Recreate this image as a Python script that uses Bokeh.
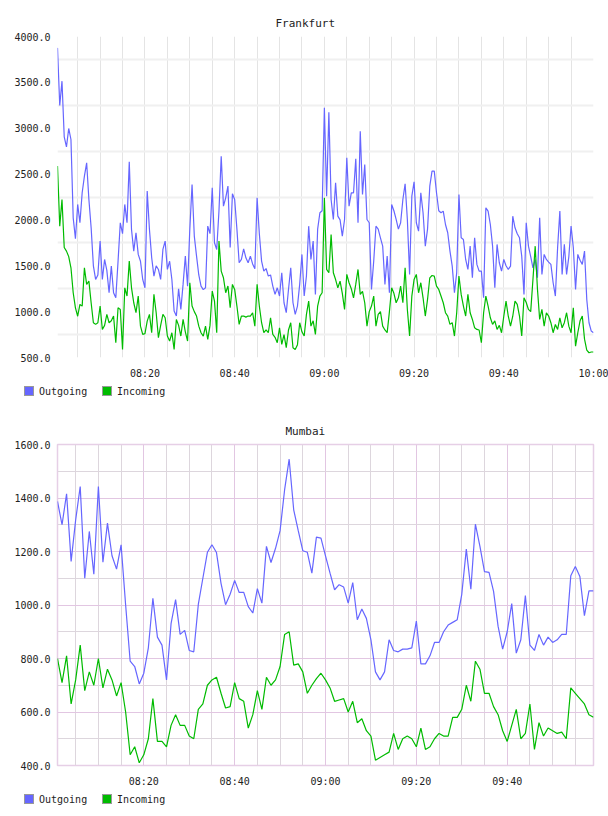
import pandas as pd
from bokeh.plotting import figure
from bokeh.layouts import column
from bokeh.models import (ColumnDataSource, FixedTicker, PrintfTickFormatter,
                          DatetimeTickFormatter, Range1d, Div)
from bokeh.embed import file_html
from bokeh.resources import INLINE

DAY = "2000-01-01"

# ---------------- Frankfurt (30 s samples, 08:00:30 .. 10:00:00) ----------------
fra_start = "08:00:30"
fra_step = "30s"
fra_out = [
    3876, 3248, 3513, 2906, 2797, 2997, 2877, 2023, 1795, 2169,
    1969, 2296, 2477, 2623, 2223, 1915, 1500, 1351, 1400, 1769,
    1351, 1569, 1450, 1206, 1497, 1206, 1151, 1550, 1969, 1850,
    2169, 1969, 2634, 1896, 1660, 1860, 1624, 1550, 1351, 1260,
    2314, 1896, 1588, 1388, 1500, 1460, 1351, 1678, 1769, 1460,
    1550, 1351, 1006, 952, 1250, 1024, 1300, 1605, 1278, 1900,
    2387, 1824, 1605, 1400, 1278, 1240, 1260, 1933, 1850, 2350,
    1751, 1678, 2100, 2695, 2150, 2241, 2369, 1700, 2285, 2223,
    1900, 1533, 1569, 1685, 1587, 1533, 1605, 1520, 1467, 2241,
    1850, 1551, 1442, 1470, 1388, 1400, 1279, 1188, 1260, 1170,
    1424, 1097, 988, 1242, 1478, 1097, 970, 1061, 1300, 1624,
    1170, 1388, 1932, 1569, 1769, 1188, 1900, 2078, 2100, 3222,
    2259, 3175, 2223, 2005, 2405, 2041, 2000, 1823, 2005, 2677,
    2150, 2296, 2296, 2666, 1969, 2968, 2278, 2605, 2005, 1969,
    1242, 1551, 1932, 1900, 1805, 1714, 1297, 1605, 1206, 2169,
    2100, 2005, 1900, 1969, 2223, 2394, 2005, 1405, 2259, 2416,
    1969, 1878, 2296, 2078, 1714, 1900, 2368, 2532, 2532, 2296,
    2100, 2078, 2096, 1950, 1860, 1660, 1496, 1206, 1424, 2278,
    1805, 1787, 1569, 1460, 1714, 1369, 1805, 1515, 1442, 1442,
    1151, 2132, 2096, 1950, 1714, 1260, 1733, 1533, 1442, 1569,
    1500, 1460, 1496, 2041, 1914, 1850, 1805, 1605, 1188, 1969,
    1714, 1600, 1478, 1569, 1369, 2023, 1405, 1624, 1569, 1540,
    1515, 1315, 1170, 1700, 2096, 1405, 1733, 1405, 1600, 1932,
    1700, 1242, 1624, 1560, 1515, 1660, 1133, 879, 788, 770,
]
fra_in = [
    2587, 1932, 2223, 1700, 1660, 1600, 1478, 1206, 1042, 950,
    1079, 1060, 1478, 1297, 1333, 1097, 879, 861, 879, 1061,
    806, 850, 970, 879, 900, 952, 661, 1042, 1024, 588,
    1260, 1170, 1551, 1260, 1097, 988, 1170, 842, 752, 760,
    897, 970, 770, 1188, 988, 716, 850, 970, 933, 734,
    679, 770, 588, 915, 850, 734, 915, 780, 679, 1315,
    1061, 1000, 952, 842, 770, 734, 842, 697, 850, 1224,
    1115, 770, 1769, 1442, 1369, 1206, 1279, 1042, 1297, 1242,
    1061, 861, 952, 952, 940, 952, 952, 988, 842, 1297,
    1061, 879, 770, 800, 770, 933, 752, 720, 661, 824,
    643, 750, 607, 800, 879, 607, 588, 640, 879, 780,
    734, 970, 1115, 842, 900, 752, 1061, 1170, 1206, 2241,
    1460, 1424, 1841, 1424, 1350, 1260, 1333, 1200, 1024, 1406,
    1315, 1250, 1151, 1300, 1460, 1188, 1220, 1097, 842, 1000,
    1061, 1170, 842, 970, 1000, 842, 800, 770, 1000, 1260,
    1200, 1097, 1151, 1279, 1097, 1478, 1024, 734, 1170, 1351,
    1406, 1206, 1315, 1151, 952, 1133, 1369, 1394, 1388, 1279,
    1242, 1170, 1097, 988, 952, 861, 880, 734, 988, 1388,
    1188, 1061, 952, 1188, 988, 915, 824, 806, 800, 661,
    988, 1170, 1061, 933, 861, 900, 806, 850, 770, 950,
    1115, 950, 842, 950, 1115, 1079, 952, 734, 1151, 1100,
    1024, 1000, 1351, 1714, 1250, 915, 1024, 842, 988, 952,
    879, 770, 860, 806, 933, 824, 879, 988, 842, 770,
    1042, 624, 770, 900, 952, 700, 580, 552, 560, 560,
]
fra_y_ticks = [500, 1000, 1500, 2000, 2500, 3000, 3500, 4000]
fra_y_grid = [750, 1250, 1750, 2250, 2750, 3250, 3750]

# ---------------- Mumbai (1 min samples, 08:01 .. 09:59) ----------------
mum_start = "08:01:00"
mum_step = "60s"
mum_out = [
    1387, 1300, 1416, 1163, 1318, 1443, 1100, 1275, 1115, 1443,
    1160, 1306, 1184, 1134, 1225, 1000, 790, 770, 705, 745,
    840, 1025, 880, 850, 720, 930, 1020, 890, 905, 830,
    825, 1002, 1100, 1197, 1225, 1196, 1081, 1001, 1040, 1092,
    1047, 1047, 994, 970, 1061, 1007, 1219, 1159, 1212, 1278,
    1431, 1545, 1356, 1278, 1203, 1197, 1119, 1254, 1250, 1184,
    1119, 1057, 1076, 1067, 1007, 1084, 945, 985, 950, 870,
    750, 720, 750, 870, 830, 825, 835, 835, 840, 940,
    780, 780, 810, 860, 860, 900, 925, 935, 945, 1040,
    1209, 1059, 1302, 1219, 1125, 1122, 1051, 920, 835, 900,
    1005, 820, 870, 1035, 850, 830, 890, 850, 880, 860,
    870, 890, 890, 1109, 1144, 1107, 960, 1053, 1053,
]
mum_in = [
    800, 710, 810, 630, 720, 850, 680, 750, 700, 800,
    690, 760, 720, 660, 710, 600, 440, 470, 410, 440,
    500, 650, 490, 490, 470, 550, 590, 550, 550, 510,
    500, 610, 630, 700, 720, 730, 670, 615, 620, 710,
    650, 640, 540, 590, 680, 610, 730, 700, 720, 770,
    890, 900, 775, 780, 750, 670, 700, 725, 745, 720,
    690, 640, 645, 650, 600, 640, 560, 575, 530, 510,
    420, 430, 440, 450, 520, 460, 500, 510, 500, 470,
    540, 460, 470, 500, 520, 510, 510, 580, 580, 610,
    700, 640, 790, 760, 670, 670, 620, 590, 530, 490,
    550, 610, 500, 520, 630, 460, 560, 510, 540, 530,
    520, 525, 500, 690, 670, 650, 630, 590, 580,
]
mum_y_ticks = [400, 600, 800, 1000, 1200, 1400, 1600]
mum_y_minor = [500, 700, 900, 1100, 1300, 1500]

x_labels = ["08:20", "08:40", "09:00", "09:20", "09:40", "10:00"]
series_labels = ["Outgoing", "Incoming"]

OUT_COLOR = "#6666ff"
IN_COLOR = "#00bb00"
FONT = "DejaVu Sans Mono"
TEXT = "#222222"


def ms(hhmmss):
    return pd.Timestamp(f"{DAY} {hhmmss}").value // 10**6


def five_min_marks(t0, t1):
    out = []
    for h in range(8, 11):
        for m in range(0, 60, 5):
            v = ms(f"{h:02d}:{m:02d}:00")
            if t0 <= v <= t1:
                out.append(v)
    return out


def panel(title, t_start, step, out_vals, in_vals, y_lo, y_hi, y_ticks,
          title_offset, mumbai):
    t = pd.date_range(f"{DAY} {t_start}", periods=len(out_vals), freq=step)
    x0 = int(t[0].value // 10**6)
    x1 = int(t[-1].value // 10**6)
    src = ColumnDataSource(dict(t=t, out=out_vals, inc=in_vals))

    p = figure(width=608, height=382, x_axis_type="datetime",
               output_backend="svg", toolbar_location=None,
               x_range=Range1d(x0, x1), y_range=Range1d(y_lo, y_hi),
               min_border_left=57, min_border_right=15,
               min_border_top=36, min_border_bottom=25)
    p.background_fill_color = "white"
    p.border_fill_color = "white"

    p.line("t", "out", source=src, color=OUT_COLOR, line_width=1.2)
    p.line("t", "inc", source=src, color=IN_COLOR, line_width=1.2)

    p.title.text = title
    p.title.align = "left"
    p.title.offset = title_offset
    p.title.standoff = 14
    p.title.text_font = FONT
    p.title.text_font_size = "11px"
    p.title.text_font_style = "normal"
    p.title.text_color = TEXT

    major_x = [ms(s + ":00") for s in x_labels]
    minor_x = five_min_marks(x0, x1)
    for ax in (p.xaxis[0], p.yaxis[0]):
        ax.axis_line_color = None
        ax.major_tick_line_color = None
        ax.minor_tick_line_color = None
        ax.major_tick_out = 0
        ax.major_tick_in = 0
        ax.minor_tick_out = 0
        ax.minor_tick_in = 0
        ax.major_label_text_font = FONT
        ax.major_label_text_font_size = "10px"
        ax.major_label_text_color = TEXT
    p.xaxis[0].ticker = FixedTicker(ticks=major_x)
    p.xaxis[0].formatter = DatetimeTickFormatter(
        seconds="%H:%M", minsec="%H:%M", minutes="%H:%M",
        hourmin="%H:%M", hours="%H:%M")
    p.xaxis[0].major_label_standoff = 10
    p.yaxis[0].ticker = FixedTicker(ticks=y_ticks)
    p.yaxis[0].formatter = PrintfTickFormatter(format="%.1f")
    p.yaxis[0].major_label_standoff = 7

    if mumbai:
        p.xgrid[0].ticker = FixedTicker(
            ticks=[v for v in major_x if x0 <= v <= x1],
            minor_ticks=[v for v in minor_x if v not in major_x])
        p.xgrid[0].grid_line_color = "#e2c6e2"
        p.xgrid[0].minor_grid_line_color = "#ddd6dd"
        p.ygrid[0].ticker = FixedTicker(ticks=y_ticks, minor_ticks=mum_y_minor)
        p.ygrid[0].grid_line_color = "#e2c6e2"
        p.ygrid[0].minor_grid_line_color = "#ddd6dd"
        p.outline_line_color = "#e6cfe6"
        p.outline_line_width = 1.5
    else:
        p.xgrid[0].ticker = FixedTicker(ticks=minor_x)
        p.xgrid[0].grid_line_color = "#e4e4e4"
        p.ygrid[0].ticker = FixedTicker(ticks=fra_y_grid)
        p.ygrid[0].grid_line_color = "#f0f0f0"
        p.ygrid[0].grid_line_width = 2
        p.outline_line_color = None
    return p


def legend_strip():
    colors = [OUT_COLOR, IN_COLOR]
    lefts = [24, 102]
    parts = []
    for lab, col, left in zip(series_labels, colors, lefts):
        parts.append(
            f'<span style="position:absolute;left:{left}px;top:4px;width:10px;'
            f'height:10px;background:{col};border:1px solid #999999;"></span>'
            f'<span style="position:absolute;left:{left + 15}px;top:3px;'
            f'line-height:13px;white-space:nowrap;">{lab}</span>')
    html = (f'<div style="position:relative;width:608px;height:26px;'
            f'font-family:\'{FONT}\';font-size:10px;color:{TEXT};'
            f'background:white;">' + "".join(parts) + '</div>')
    return Div(text=html, width=608, height=26, margin=(0, 0, 0, 0))


p1 = panel("Frankfurt", fra_start, fra_step, fra_out, fra_in, 500, 4000,
           fra_y_ticks, 218, False)
p2 = panel("Mumbai", mum_start, mum_step, mum_out, mum_in, 400, 1600,
           mum_y_ticks, 228, True)

layout = column(p1, legend_strip(), p2, legend_strip(), spacing=0)
open("out.html", "w").write(file_html(layout, INLINE))
